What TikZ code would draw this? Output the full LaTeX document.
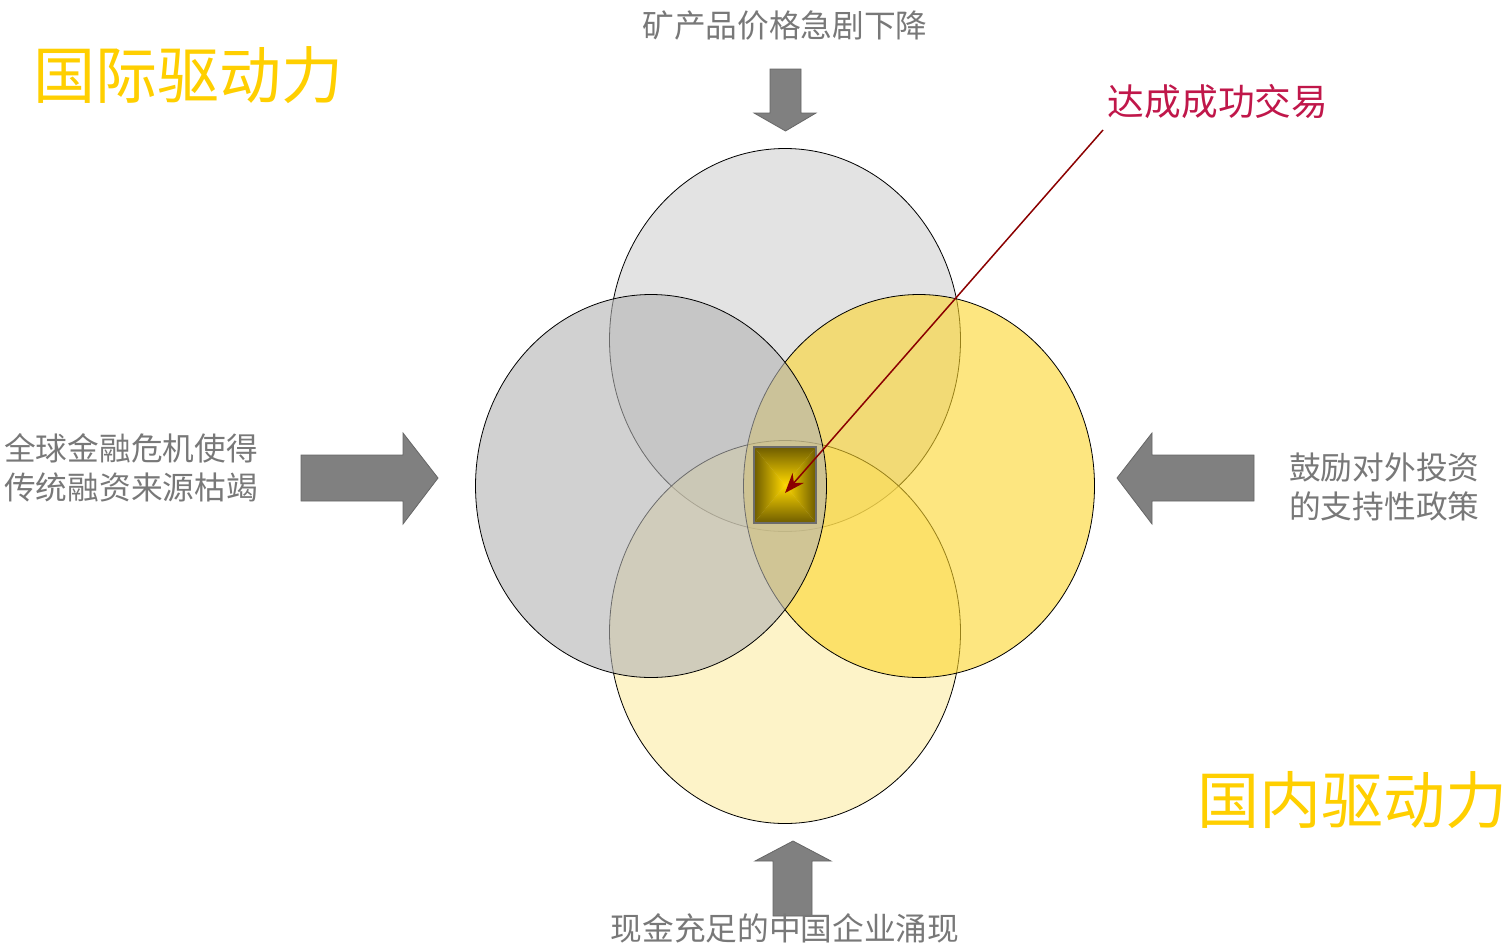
\documentclass[tikz,border=0pt]{standalone}
\usepackage{fontspec}
\newfontfamily\cjk{Noto Sans CJK SC}
\usetikzlibrary{shapes.geometric,arrows.meta}
\definecolor{txtgray}{HTML}{787878}
\definecolor{gold}{HTML}{FFCF00}
\definecolor{crimson}{HTML}{C0174A}
\definecolor{arrowgray}{HTML}{808080}
\definecolor{cTop}{HTML}{D0D0D0}
\definecolor{cLeft}{HTML}{B3B3B3}
\definecolor{cRight}{HTML}{FCD52B}
\definecolor{cBot}{HTML}{FCEBA3}
\definecolor{pyrdark}{HTML}{6E5C00}
\definecolor{pyrlight}{HTML}{FFD800}
\definecolor{redarrow}{HTML}{8B0000}
\tikzset{
  circ/.style={ellipse, draw=black, line width=0.8pt, inner sep=0pt, minimum width=351pt, minimum height=383pt, fill opacity=0.6},
  blockarrow/.style={fill=arrowgray, draw=arrowgray!80!black, line width=0.8pt, line join=miter},
  smalltext/.style={text=txtgray, inner sep=0pt, font=\cjk\fontsize{31.7}{39}\selectfont, align=left},
  bigtext/.style={text=gold, inner sep=0pt, font=\cjk\fontsize{62}{70}\selectfont},
}
\begin{document}
\begin{tikzpicture}[x=1pt,y=-1pt]
\useasboundingbox (0,0) rectangle (1511,948);
% circles
\node[circ, fill=cTop] (top) at (785,340) {};
\node[circ, fill=cBot] (bot) at (785,632) {};
\node[circ, fill=cRight] (right) at (919,486) {};
\node[circ, fill=cLeft] (left) at (651,486) {};
% center square with pyramid shading
\coordinate (sqc) at (785,485);
\shade[top color=pyrdark, bottom color=pyrlight] (754,447) -- (816,447) -- (sqc) -- cycle;
\shade[bottom color=pyrdark, top color=pyrlight] (754,523) -- (816,523) -- (sqc) -- cycle;
\shade[left color=pyrdark, right color=pyrlight] (754,447) -- (754,523) -- (sqc) -- cycle;
\shade[right color=pyrdark, left color=pyrlight] (816,447) -- (816,523) -- (sqc) -- cycle;
\node[draw=gray!85!black, line width=2pt, minimum width=62pt, minimum height=76pt, inner sep=0pt] (deal) at (785,485) {};
% block arrows
\draw[blockarrow] (770,69) -- (801,69) -- (801,113) -- (816,113) -- (785.5,131) -- (754,113) -- (770,113) -- cycle;
\draw[blockarrow] (301,455) -- (403,455) -- (403,433) -- (438,478) -- (403,524) -- (403,501) -- (301,501) -- cycle;
\draw[blockarrow] (1254,455) -- (1152,455) -- (1152,433) -- (1117,478) -- (1152,524) -- (1152,501) -- (1254,501) -- cycle;
\draw[blockarrow] (773,916) -- (773,861) -- (755,861) -- (793,841) -- (831,861) -- (812,861) -- (812,916) -- cycle;
% texts
\node[smalltext] (t1) at (785,25) {矿产品价格急剧下降};
\node[smalltext, anchor=west] (t2) at (4,467.5) {全球金融危机使得\\传统融资来源枯竭};
\node[smalltext, anchor=west] (t3) at (1289,486.5) {鼓励对外投资\\的支持性政策};
\node[smalltext] (t4) at (785,928) {现金充足的中国企业涌现};
\node[text=crimson, inner sep=0pt, font=\cjk\fontsize{36.7}{40}\selectfont] (lbl) at (1218,102) {达成成功交易};
\node[bigtext] (intl) at (188,75) {国际驱动力};
\node[bigtext] (dom) at (1352,800) {国内驱动力};
% red arrow
\coordinate (rstart) at (1103,130);
\coordinate (rend) at (785,493);
\draw[redarrow, line width=1.5pt, -{Stealth[length=20pt,width=15pt]}] (rstart) -- (rend);
\end{tikzpicture}
\end{document}
